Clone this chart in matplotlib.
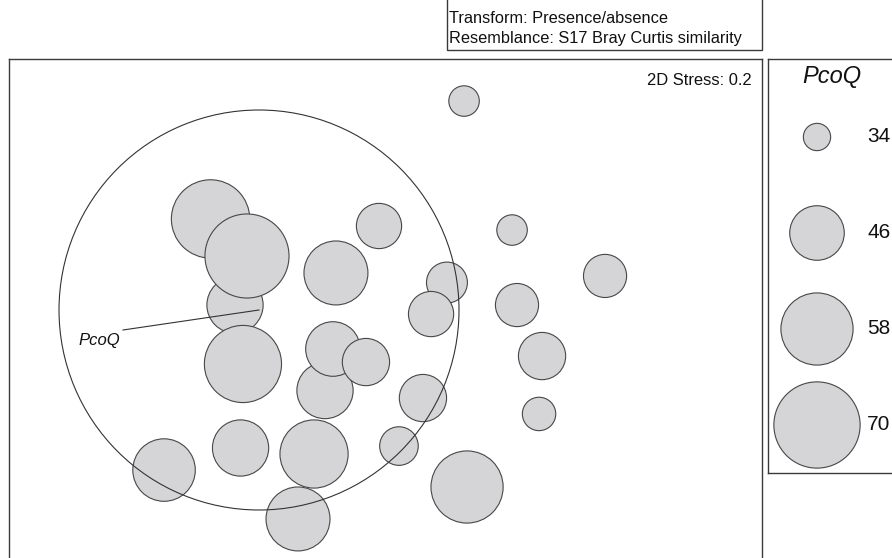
import numpy as np
import matplotlib
matplotlib.use("Agg")
import matplotlib.pyplot as plt
from matplotlib.patches import Circle, Rectangle

plt.rcParams["font.family"] = ["Liberation Sans", "DejaVu Sans"]

# nMDS ordination coordinates of the samples and their PcoQ values
mds1 = [-1.163, -1.000, -0.920, -0.947, -0.400, -0.347, -0.127, 0.413, 0.307,
        -0.327, -0.040, 0.527, 0.847, 1.467, 0.880, 1.047, 1.027, 0.253,
        -1.473, -0.963, -0.473, 0.093, 0.547, -0.580]
mds2 = [0.607, 0.033, 0.360, -0.360, -0.537, -0.260, -0.347, 0.183, -0.027,
        0.247, 0.560, 1.393, 0.533, 0.227, 0.033, -0.307, -0.693, -0.587,
        -1.067, -0.920, -0.960, -0.907, -1.180, -1.393]
pcoq = [63, 47, 68, 62, 47, 46, 42, 39, 41,
        52, 41, 35, 35, 40, 40, 42, 36, 42,
        51, 47, 55, 38, 58, 52]

# bubble key values
key_values = [34, 46, 58, 70]

# vector overlay: correlation of PcoQ with the two MDS axes
vec_label = "PcoQ"
vec_corr = (-0.68, -0.10)

stress_text = "2D Stress: 0.2"
header_lines = ["Transform: Presence/absence",
                "Resemblance: S17 Bray Curtis similarity"]

W, H, DPI = 892, 558, 100
FACE = "#d5d5d7"
EDGE = "#474747"
FRAME = "#3a3a3a"
INK = "#111111"


def bubble_area(v):
    # bubble area grows linearly with the value above the base level
    r_px = np.sqrt(46.5 * (np.asarray(v, float) - 30.0))
    return (2 * r_px * 72.0 / DPI) ** 2


def fig_rect(x0, y0, x1, y1):
    return [x0 / W, (H - y1) / H, (x1 - x0) / W, (y1 - y0) / H]


fig = plt.figure(figsize=(W / DPI, H / DPI), dpi=DPI)

# main ordination panel
ax = fig.add_axes(fig_rect(9, 59, 761.5, 565))
ax.set_xlim(-2.5067, 2.51)
ax.set_ylim(-1.70, 1.6733)
ax.set_xticks([])
ax.set_yticks([])
for sp in ax.spines.values():
    sp.set_color(FRAME)
    sp.set_linewidth(1.0)

ax.scatter(mds1, mds2, s=bubble_area(pcoq), facecolor=FACE, edgecolor=EDGE,
           linewidth=0.8, zorder=2)

# correlation circle and vector
cx, cy, rad = -0.84, 0.0, 1.3333
ax.add_patch(Circle((cx, cy), rad, fill=False, edgecolor="#333333",
                    linewidth=0.8, zorder=3))
ex, ey = cx + vec_corr[0] * rad, cy + vec_corr[1] * rad
ax.plot([cx, ex], [cy, ey], color="#333333", linewidth=0.8, zorder=3)
ax.text(ex - 0.02, ey - 0.10, vec_label, ha="right", va="baseline",
        fontsize=12, style="italic", color=INK, zorder=4)

ax.text(0.987, 0.948, stress_text, transform=ax.transAxes, ha="right",
        va="baseline", fontsize=11.9, color=INK)

# bubble key panel
lg = fig.add_axes(fig_rect(768, 59, 905, 473))
lg.set_xlim(768, 905)
lg.set_ylim(473, 59)
lg.set_xticks([])
lg.set_yticks([])
for sp in lg.spines.values():
    sp.set_color(FRAME)
    sp.set_linewidth(1.0)
lg.text(832, 83, vec_label, ha="center", va="baseline", fontsize=17,
        style="italic", color=INK)
key_y = [137, 233, 329, 425]
lg.scatter([817] * len(key_values), key_y, s=bubble_area(key_values),
           facecolor=FACE, edgecolor=EDGE, linewidth=0.8, clip_on=False)
for v, yy in zip(key_values, key_y):
    lg.text(867, yy, str(v), ha="left", va="center", fontsize=15, color=INK)

# header box
fig.add_artist(Rectangle((446.5 / W, (H - 49.5) / H), (761.5 - 446.5) / W,
                         60 / H, transform=fig.transFigure, fill=False,
                         edgecolor=FRAME, linewidth=1.0))
fig.text(449 / W, (H - 22.7) / H, header_lines[0], ha="left", va="baseline",
         fontsize=11.8, color=INK)
fig.text(449 / W, (H - 42.7) / H, header_lines[1], ha="left", va="baseline",
         fontsize=11.8, color=INK)

fig.savefig("out.png", dpi=DPI)
